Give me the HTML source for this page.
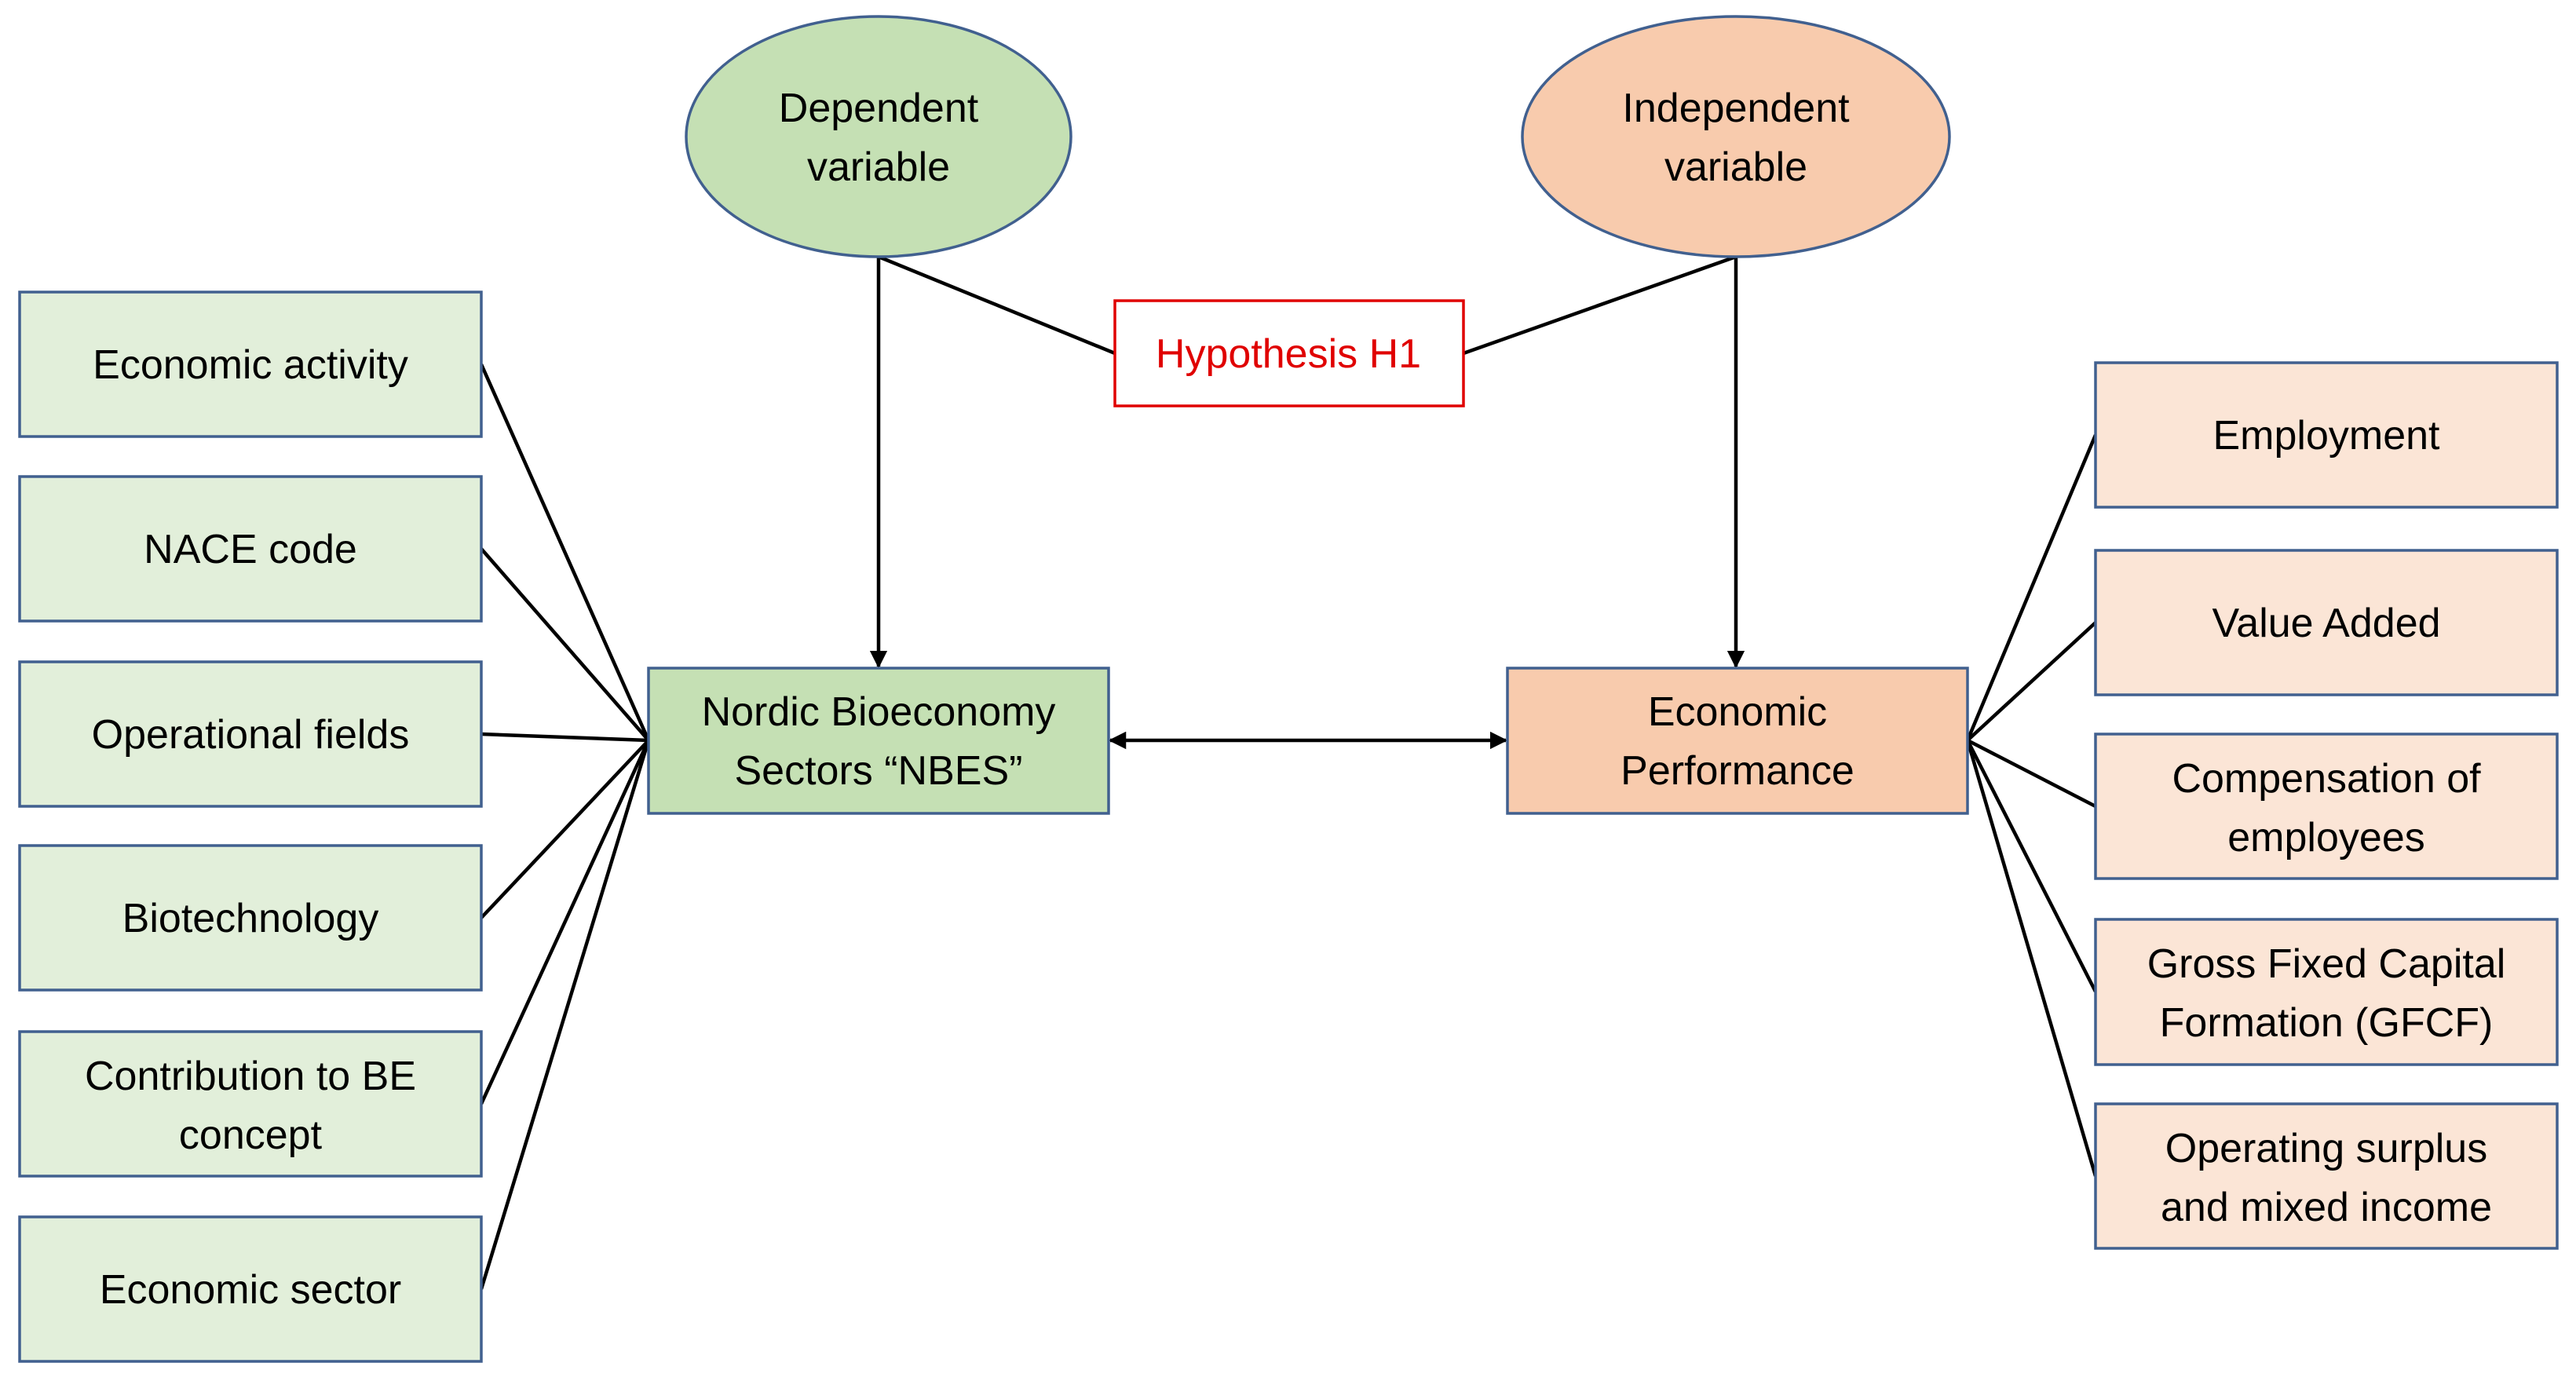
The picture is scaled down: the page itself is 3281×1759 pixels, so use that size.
<!DOCTYPE html>
<html><head><meta charset="utf-8"><style>
html,body{margin:0;padding:0;background:#fff;}
svg{display:block;}
text{font-family:"Liberation Sans",sans-serif;font-size:52px;fill:#000;text-anchor:middle;}
</style></head><body>
<svg width="3281" height="1759" viewBox="0 0 3281 1759" xmlns="http://www.w3.org/2000/svg">
<defs>
<marker id="a" viewBox="0 0 10 10" refX="9" refY="5" markerWidth="5" markerHeight="5" orient="auto-start-reverse"><path d="M0,0 L10,5 L0,10 z" fill="#000"/></marker>
</defs>
<g stroke="#000" stroke-width="4.5" fill="none">
<line x1="613" y1="464" x2="826" y2="943"/>
<line x1="613" y1="699" x2="826" y2="943"/>
<line x1="613" y1="935" x2="826" y2="943"/>
<line x1="613" y1="1169" x2="826" y2="943"/>
<line x1="613" y1="1406" x2="826" y2="943"/>
<line x1="613" y1="1642" x2="826" y2="943"/>
<line x1="2506" y1="943" x2="2669" y2="554"/>
<line x1="2506" y1="943" x2="2669" y2="793"/>
<line x1="2506" y1="943" x2="2669" y2="1027"/>
<line x1="2506" y1="943" x2="2669" y2="1263"/>
<line x1="2506" y1="943" x2="2669" y2="1498"/>
<line x1="1119" y1="327" x2="1420" y2="450"/>
<line x1="2211" y1="327" x2="1864" y2="450"/>
<line x1="1119" y1="327" x2="1119" y2="849" marker-end="url(#a)"/>
<line x1="2211" y1="327" x2="2211" y2="849" marker-end="url(#a)"/>
<line x1="1414" y1="943" x2="1918" y2="943" marker-start="url(#a)" marker-end="url(#a)"/>
</g>
<g stroke="#41608f" stroke-width="3.5">
<ellipse cx="1119" cy="174" rx="245" ry="153" fill="#c5e0b4"/>
<ellipse cx="2211" cy="174" rx="272" ry="153" fill="#f8cbad"/>
<g fill="#e2efda">
<rect x="25" y="372" width="588" height="184"/>
<rect x="25" y="607" width="588" height="184"/>
<rect x="25" y="843" width="588" height="184"/>
<rect x="25" y="1077" width="588" height="184"/>
<rect x="25" y="1314" width="588" height="184"/>
<rect x="25" y="1550" width="588" height="184"/>
</g>
<rect x="826" y="851" width="586" height="185" fill="#c5e0b4"/>
<rect x="1920" y="851" width="586" height="185" fill="#f8cbad"/>
<g fill="#fbe5d6">
<rect x="2669" y="462" width="588" height="184"/>
<rect x="2669" y="701" width="588" height="184"/>
<rect x="2669" y="935" width="588" height="184"/>
<rect x="2669" y="1171" width="588" height="185"/>
<rect x="2669" y="1406" width="588" height="184"/>
</g>
</g>
<rect x="1420" y="383" width="444" height="134" fill="#fff" stroke="#e00000" stroke-width="3.5"/>
<text x="1641" y="468" style="fill:#e00000">Hypothesis H1</text>
<text x="1119" y="155">Dependent</text><text x="1119" y="230">variable</text>
<text x="2211" y="155">Independent</text><text x="2211" y="230">variable</text>
<text x="319" y="482">Economic activity</text>
<text x="319" y="717">NACE code</text>
<text x="319" y="953">Operational fields</text>
<text x="319" y="1187">Biotechnology</text>
<text x="319" y="1388">Contribution to BE</text><text x="319" y="1463">concept</text>
<text x="319" y="1660">Economic sector</text>
<text x="1119" y="924">Nordic Bioeconomy</text><text x="1119" y="999">Sectors “NBES”</text>
<text x="2213" y="924">Economic</text><text x="2213" y="999">Performance</text>
<text x="2963" y="572">Employment</text>
<text x="2963" y="811">Value Added</text>
<text x="2963" y="1009">Compensation of</text><text x="2963" y="1084">employees</text>
<text x="2963" y="1245">Gross Fixed Capital</text><text x="2963" y="1320">Formation (GFCF)</text>
<text x="2963" y="1480">Operating surplus</text><text x="2963" y="1555">and mixed income</text>
</svg>
</body></html>
